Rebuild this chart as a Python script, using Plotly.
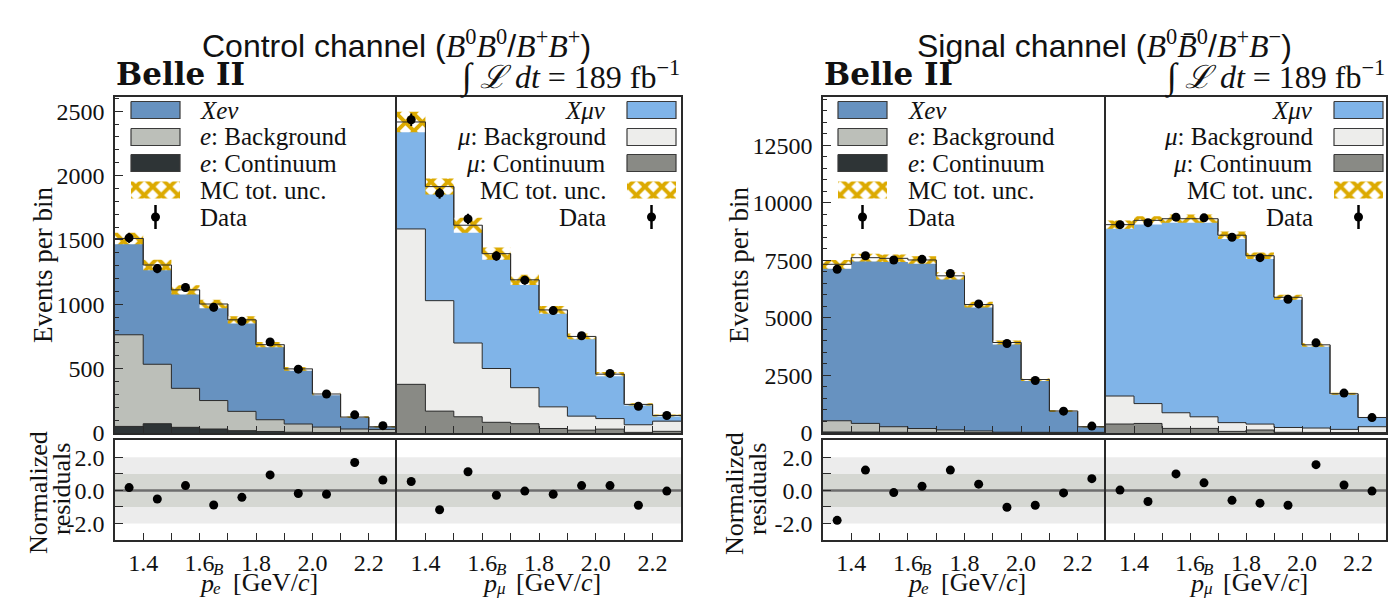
import numpy as np
import plotly.graph_objects as go

W, H = 1388, 600

# Binning in p^B (GeV/c)
bin_edges = [1.3, 1.4, 1.5, 1.6, 1.7, 1.8, 1.9, 2.0, 2.1, 2.2, 2.3]
x_major_ticks = [1.4, 1.6, 1.8, 2.0, 2.2]
x_major_text = ["1.4", "1.6", "1.8", "2.0", "2.2"]
x_minor_ticks = [1.3, 1.5, 1.7, 1.9, 2.1, 2.3]

# ---- Control channel (B0B0 / B+B+) ----
ctrl_e_continuum = [51, 72, 44, 31, 18, 12, 6, 4, 3, 3]
ctrl_e_background = [712, 462, 303, 221, 150, 91, 64, 42, 28, 25]
ctrl_e_signal = [748, 771, 765, 750, 711, 583, 428, 257, 92, 20]
ctrl_e_mc_unc = [45, 40, 36, 33, 28, 20, 14, 9, 6, 4]
ctrl_e_data = [1516, 1277, 1130, 976, 868, 707, 496, 303, 141, 57]
ctrl_e_data_err = [39, 36, 34, 31, 29, 27, 22, 17, 12, 8]
ctrl_e_resid = [0.17, -0.52, 0.29, -0.88, -0.42, 0.94, -0.19, -0.23, 1.69, 0.63]

ctrl_mu_continuum = [378, 170, 126, 83, 72, 35, 22, 30, 5, 13]
ctrl_mu_background = [1207, 858, 573, 418, 280, 168, 109, 82, 59, 79]
ctrl_mu_signal = [831, 886, 915, 892, 838, 753, 619, 345, 158, 44]
ctrl_mu_mc_unc = [80, 62, 58, 48, 40, 30, 22, 16, 9, 7]
ctrl_mu_data = [2433, 1863, 1663, 1375, 1187, 951, 755, 463, 208, 136]
ctrl_mu_data_err = [49, 43, 41, 37, 34, 31, 27, 22, 14, 12]
ctrl_mu_resid = [0.54, -1.17, 1.13, -0.29, -0.04, -0.23, 0.29, 0.29, -0.90, -0.04]

# ---- Signal channel (B0 B0bar / B+B-) ----
sig_e_continuum = [45, 40, 30, 25, 20, 15, 10, 8, 5, 4]
sig_e_background = [487, 377, 243, 170, 115, 75, 25, 22, 23, 24]
sig_e_signal = [6799, 7201, 7317, 7323, 6694, 5491, 3896, 2294, 927, 242]
sig_e_mc_unc = [190, 170, 165, 165, 160, 125, 85, 60, 35, 15]
sig_e_data = [7116, 7704, 7518, 7545, 6930, 5610, 3888, 2281, 950, 300]
sig_e_data_err = [84, 88, 87, 87, 83, 75, 62, 48, 31, 17]
sig_e_resid = [-1.81, 1.23, -0.13, 0.25, 1.23, 0.38, -1.02, -0.90, -0.15, 0.71]

sig_mu_continuum = [390, 415, 200, 200, 70, 130, 30, 25, 20, 20]
sig_mu_background = [1217, 863, 680, 504, 380, 258, 210, 191, 138, 253]
sig_mu_signal = [7446, 7962, 8431, 8607, 8144, 7316, 5657, 3615, 1549, 401]
sig_mu_mc_unc = [180, 180, 180, 180, 160, 140, 110, 80, 40, 20]
sig_mu_data = [9053, 9139, 9380, 9350, 8508, 7618, 5811, 3917, 1735, 670]
sig_mu_data_err = [95, 96, 97, 97, 92, 87, 76, 63, 42, 26]
sig_mu_resid = [0.02, -0.67, 1.00, 0.46, -0.60, -0.77, -0.90, 1.56, 0.33, -0.04]

# ---- Styling ----
COL = {
    "e_sig": "#6792c0", "e_bkg": "#bcbfb9", "e_cont": "#2e3436",
    "mu_sig": "#80b4e8", "mu_bkg": "#ededeb", "mu_cont": "#898a85",
    "unc": "#dcaa00",
}
HATCH = dict(shape="x", fgcolor=COL["unc"], bgcolor="white", size=12, solidity=0.55)
SERIF = "Liberation Serif"
SANS = "Liberation Sans"
AXCOL = "#2a2a2a"
EDGE = "#2b2b2b"
TXT = "#111111"

edges = np.array(bin_edges)
centers = (edges[:-1] + edges[1:]) / 2


def step(vals):
    v = np.asarray(vals, dtype=float)
    return np.append(v, v[-1])


fig = go.Figure()


def ax_names(n):
    return ("x" if n == 1 else f"x{n}", "y" if n == 1 else f"y{n}")


def add_stack(n, cont, bkg, sig, unc, data, derr, kind):
    xa, ya = ax_names(n)
    c1 = np.asarray(cont, float)
    c2 = c1 + np.asarray(bkg, float)
    tot = c2 + np.asarray(sig, float)
    # stacked components, drawn top-down so each fill covers the one above
    for vals, color in [(tot, COL[f"{kind}_sig"]), (c2, COL[f"{kind}_bkg"]),
                        (c1, COL[f"{kind}_cont"])]:
        fig.add_trace(go.Scatter(
            x=edges, y=step(vals), mode="lines", line_shape="hv",
            fill="tozeroy", fillcolor=color, line=dict(color=EDGE, width=1),
            xaxis=xa, yaxis=ya, hoverinfo="skip", showlegend=False))
    # total MC uncertainty band
    lo = tot - np.asarray(unc, float)
    hi = tot + np.asarray(unc, float)
    fig.add_trace(go.Scatter(
        x=edges, y=step(lo), mode="lines", line_shape="hv",
        line=dict(width=0, color="rgba(0,0,0,0)"),
        xaxis=xa, yaxis=ya, hoverinfo="skip", showlegend=False))
    fig.add_trace(go.Scatter(
        x=edges, y=step(hi), mode="lines", line_shape="hv",
        line=dict(width=0, color="rgba(0,0,0,0)"), fill="tonexty",
        fillcolor="white", fillpattern=HATCH,
        xaxis=xa, yaxis=ya, hoverinfo="skip", showlegend=False))
    fig.add_trace(go.Scatter(
        x=edges, y=step(tot), mode="lines", line_shape="hv",
        line=dict(color=EDGE, width=1),
        xaxis=xa, yaxis=ya, hoverinfo="skip", showlegend=False))
    fig.add_trace(go.Scatter(
        x=centers, y=data, mode="markers",
        marker=dict(color="black", size=9),
        error_y=dict(type="data", array=derr, thickness=2, width=0, color="black"),
        xaxis=xa, yaxis=ya, hoverinfo="skip", showlegend=False))


def add_resid(n, resid):
    xa, ya = ax_names(n)
    xr = f"{xa} domain"
    for lim, color in [(2, "#ececec"), (1, "#d5d7d2")]:
        fig.add_shape(type="rect", xref=xr, yref=ya, x0=0, x1=1, y0=-lim, y1=lim,
                      fillcolor=color, line=dict(width=0), layer="below")
    fig.add_shape(type="line", xref=xr, yref=ya, x0=0, x1=1, y0=0, y1=0,
                  line=dict(color="#6e6e6e", width=2.5), layer="below")
    fig.add_trace(go.Scatter(
        x=centers, y=resid, mode="markers", marker=dict(color="black", size=9),
        xaxis=xa, yaxis=ya, hoverinfo="skip", showlegend=False))


add_stack(1, ctrl_e_continuum, ctrl_e_background, ctrl_e_signal, ctrl_e_mc_unc,
          ctrl_e_data, ctrl_e_data_err, "e")
add_stack(2, ctrl_mu_continuum, ctrl_mu_background, ctrl_mu_signal, ctrl_mu_mc_unc,
          ctrl_mu_data, ctrl_mu_data_err, "mu")
add_resid(3, ctrl_e_resid)
add_resid(4, ctrl_mu_resid)
add_stack(5, sig_e_continuum, sig_e_background, sig_e_signal, sig_e_mc_unc,
          sig_e_data, sig_e_data_err, "e")
add_stack(6, sig_mu_continuum, sig_mu_background, sig_mu_signal, sig_mu_mc_unc,
          sig_mu_data, sig_mu_data_err, "mu")
add_resid(7, sig_e_resid)
add_resid(8, sig_mu_resid)

# ---- Axes layout (pixel boxes) ----
MAIN_Y = (97, 433)
RES_Y = (440, 540)
panels = {
    1: dict(x=(115, 397), y=MAIN_Y, main=True, left=True, yr=[0, 2610], ymaj=500, ymin=100),
    2: dict(x=(397, 681), y=MAIN_Y, main=True, left=False, yr=[0, 2610]),
    3: dict(x=(115, 397), y=RES_Y, main=False, left=True, yr=[-3.0, 3.05]),
    4: dict(x=(397, 681), y=RES_Y, main=False, left=False, yr=[-3.0, 3.05]),
    5: dict(x=(823, 1106), y=MAIN_Y, main=True, left=True, yr=[0, 14600], ymaj=2500, ymin=500),
    6: dict(x=(1106, 1386), y=MAIN_Y, main=True, left=False, yr=[0, 14600]),
    7: dict(x=(823, 1106), y=RES_Y, main=False, left=True, yr=[-3.0, 3.05]),
    8: dict(x=(1106, 1386), y=RES_Y, main=False, left=False, yr=[-3.0, 3.05]),
}

layout = {}
for n, p in panels.items():
    xk = "xaxis" if n == 1 else f"xaxis{n}"
    yk = "yaxis" if n == 1 else f"yaxis{n}"
    xa, ya = ax_names(n)
    xaxis = dict(
        domain=[p["x"][0] / W, p["x"][1] / W], anchor=ya, range=[1.3, 2.3],
        showline=True, mirror=True, linecolor=AXCOL, linewidth=1.5,
        showgrid=False, zeroline=False, automargin=False,
        ticks="inside", ticklen=7, tickwidth=1.3, tickcolor=AXCOL,
        tickmode="array", tickvals=x_major_ticks, ticktext=x_major_text,
        minor=dict(ticks="inside", ticklen=7, tickwidth=1.3, tickcolor=AXCOL,
                   tickvals=x_minor_ticks),
        showticklabels=not p["main"], tickfont=dict(family=SERIF, size=24, color=TXT),
        fixedrange=True)
    yaxis = dict(
        domain=[1 - p["y"][1] / H, 1 - p["y"][0] / H], anchor=xa, range=p["yr"],
        showline=True, linecolor=AXCOL, linewidth=1.5, automargin=False,
        showgrid=False, zeroline=False, fixedrange=True,
        tickfont=dict(family=SERIF, size=24, color=TXT))
    if p["left"]:
        # left half: its own left border; the divider comes from the right half
        yaxis.update(mirror=False)
        if p["main"]:
            top = p["yr"][1]
            vals = list(range(0, int(top) + 1, p["ymaj"]))
            yaxis.update(ticks="inside", ticklen=8, tickwidth=1.3, tickcolor=AXCOL,
                         tickmode="array", tickvals=vals, ticktext=[str(v) for v in vals],
                         ticklabelstandoff=4,
                         minor=dict(ticks="inside", ticklen=4, tickwidth=1,
                                    tickcolor=AXCOL, dtick=p["ymin"], tick0=0))
        else:
            yaxis.update(ticks="inside", ticklen=8, tickwidth=1.3, tickcolor=AXCOL,
                         tickmode="array", tickvals=[-2, 0, 2],
                         ticktext=["-2.0", "0.0", "2.0"], ticklabelstandoff=4,
                         minor=dict(ticks="inside", ticklen=8, tickwidth=1.3,
                                    tickcolor=AXCOL, tickvals=[-1, 1]))
    else:
        yaxis.update(mirror=True, ticks="", showticklabels=False)
    layout[xk] = xaxis
    layout[yk] = yaxis

# canvas axis in pixel units for the legend swatches
layout["xaxis9"] = dict(domain=[0, 1], anchor="y9", range=[0, W], visible=False,
                        fixedrange=True, automargin=False)
layout["yaxis9"] = dict(domain=[0, 1], anchor="x9", range=[H, 0], visible=False,
                        fixedrange=True, automargin=False)

annotations = []


def txt(x, y, text, size, family=SERIF, xanchor="center", angle=0, color=TXT):
    annotations.append(dict(
        x=x / W, y=1 - y / H, xref="paper", yref="paper", text=text, showarrow=False,
        xanchor=xanchor, yanchor="middle", textangle=angle, borderpad=0,
        font=dict(family=family, size=size, color=color)))


# ---- Legends ----
ROWS = [110, 137, 163, 190, 217]
SW_W, SW_H = 49, 17


def legend(sw_x0, text_x, anchor, kind, lep):
    entries = [
        (f"<i>X{lep}ν</i>", COL[f"{kind}_sig"]),
        (f"<i>{lep}</i>: Background", COL[f"{kind}_bkg"]),
        (f"<i>{lep}</i>: Continuum", COL[f"{kind}_cont"]),
        ("MC tot. unc.", "hatch"),
        ("Data", "data"),
    ]
    for (label, style), yc in zip(entries, ROWS):
        xs = [sw_x0, sw_x0 + SW_W, sw_x0 + SW_W, sw_x0, sw_x0]
        ys = [yc - SW_H / 2, yc - SW_H / 2, yc + SW_H / 2, yc + SW_H / 2, yc - SW_H / 2]
        if style == "data":
            fig.add_trace(go.Scatter(
                x=[sw_x0 + SW_W / 2], y=[yc], mode="markers",
                marker=dict(color="black", size=9),
                error_y=dict(type="constant", value=12, thickness=2.5, width=0, color="black"),
                xaxis="x9", yaxis="y9", hoverinfo="skip", showlegend=False))
        elif style == "hatch":
            fig.add_trace(go.Scatter(
                x=xs, y=ys, mode="lines", fill="toself", fillcolor="white",
                fillpattern=HATCH, line=dict(width=0, color="rgba(0,0,0,0)"),
                xaxis="x9", yaxis="y9", hoverinfo="skip", showlegend=False))
        else:
            fig.add_trace(go.Scatter(
                x=xs, y=ys, mode="lines", fill="toself", fillcolor=style,
                line=dict(color="#3a3a3a", width=1.2),
                xaxis="x9", yaxis="y9", hoverinfo="skip", showlegend=False))
        txt(text_x, yc, label, 25, xanchor=anchor)


legend(131, 199, "left", "e", "e")
legend(627, 607, "right", "mu", "μ")
legend(838, 907, "left", "e", "e")
legend(1334, 1314, "right", "mu", "μ")

# ---- Titles and labels ----
def serif_span(s):
    return f"<span style='font-family:Liberation Serif'>{s}</span>"


txt(396, 44, "Control channel (" + serif_span("<i>B</i><sup>0</sup><i>B</i><sup>0</sup>") + "/"
    + serif_span("<i>B</i><sup>+</sup><i>B</i><sup>+</sup>") + ")", 32, family=SANS)
txt(1104, 44, "Signal channel (" + serif_span("<i>B</i><sup>0</sup><i>B\u0304</i><sup>0</sup>") + "/"
    + serif_span("<i>B</i><sup>+</sup><i>B</i><sup>\u2212</sup>") + ")", 32, family=SANS)

lumi = ("<span style='font-size:36px'>\u222b</span> <i>\u2112 dt</i> = 189 fb"
        "<sup>\u22121</sup>")
for x_left, x_right in [(115, 681), (823, 1386)]:
    txt(x_left, 74, "<b>Belle II</b>", 31, family="DejaVu Serif", xanchor="left")
    txt(x_right, 76, lumi, 32, xanchor="right")

for xc in [43, 739]:
    txt(xc, 265, "Events per bin", 27, angle=-90)
for xc in [38, 734]:
    txt(xc, 493, "Normalized", 26, angle=-90)
    txt(xc + 24, 489, "residuals", 26, angle=-90)


# x-axis titles: p with stacked superscript B and lepton subscript, then units
def xtitle(x0, lep):
    txt(x0, 583, "<i>p</i>", 26, xanchor="left")
    txt(x0 + 14, 569, "<i>B</i>", 17, xanchor="left")
    txt(x0 + 14, 588, f"<i>{lep}</i>", 17, xanchor="left")
    txt(x0 + 34, 582, "[GeV/<i>c</i>]", 26, xanchor="left")


xtitle(198, "e")
xtitle(481, "μ")
xtitle(906, "e")
xtitle(1188, "μ")

fig.update_layout(
    template="none",
    width=W, height=H, autosize=False,
    margin=dict(l=0, r=0, t=0, b=0, pad=0),
    paper_bgcolor="white", plot_bgcolor="rgba(0,0,0,0)",
    showlegend=False, annotations=annotations, **layout)

fig.write_html("out.html")
